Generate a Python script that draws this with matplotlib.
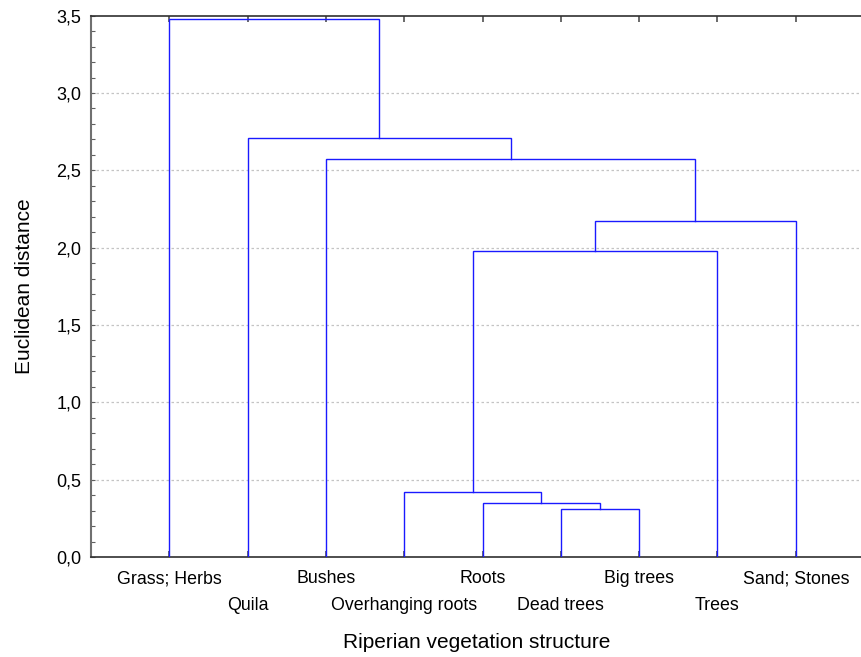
import matplotlib
matplotlib.use("Agg")
import matplotlib.pyplot as plt
from matplotlib.ticker import MultipleLocator

# ---- data ----
leaf_labels = ["Grass; Herbs", "Quila", "Bushes", "Overhanging roots", "Roots",
               "Dead trees", "Big trees", "Trees", "Sand; Stones"]
# merges: new cluster ids start at len(leaf_labels)
merge_left = [5, 4, 3, 11, 12, 2, 1, 0]
merge_right = [6, 9, 10, 7, 8, 13, 14, 15]
merge_height = [0.308, 0.351, 0.420, 1.978, 2.172, 2.576, 2.711, 3.476]
ytick_vals = [0.0, 0.5, 1.0, 1.5, 2.0, 2.5, 3.0, 3.5]
ytick_labels = ["0,0", "0,5", "1,0", "1,5", "2,0", "2,5", "3,0", "3,5"]
xlabel = "Riperian vegetation structure"
ylabel = "Euclidean distance"

plt.rcParams['font.family'] = ['Liberation Sans', 'DejaVu Sans']

W, H = 862, 657
fig = plt.figure(figsize=(W / 100, H / 100), dpi=100)
ax = fig.add_axes([91 / W, (H - 557) / H, 1 - 91 / W, (557 - 15.7) / H])

n = len(leaf_labels)
xpos = {i: i + 1 for i in range(n)}
ypos = {i: 0.0 for i in range(n)}
line_color = "#1a1aff"
for k, (a, b, h) in enumerate(zip(merge_left, merge_right, merge_height)):
    xa, xb = xpos[a], xpos[b]
    ax.plot([xa, xa, xb, xb], [ypos[a], h, h, ypos[b]], color=line_color,
            lw=1.0, solid_joinstyle="miter", zorder=3)
    cid = n + k
    xpos[cid] = (xa + xb) / 2
    ypos[cid] = h

ax.set_xlim(0, 9.846)
ax.set_ylim(0, 3.5)

# grid
for v in ytick_vals[1:-1]:
    ax.axhline(v, color="#c4c4c4", lw=0.9, ls=(0, (2, 2)), zorder=1)

ax.set_yticks(ytick_vals, ytick_labels)
ax.yaxis.set_minor_locator(MultipleLocator(0.1))
ax.tick_params(axis="y", which="both", direction="in", length=3, width=0.8,
               color="#606060", labelsize=13, pad=7)

ax.set_xticks(range(1, n + 1), leaf_labels)
ax.tick_params(axis="x", which="major", direction="in", length=4, width=1.2,
               color="#505050", top=True, labelsize=12.8, pad=9.6)
for i, t in enumerate(ax.xaxis.get_major_ticks()):
    if i % 2 == 1:
        t.set_pad(28.6)

for s in ["top", "bottom"]:
    ax.spines[s].set_color("#303030")
    ax.spines[s].set_linewidth(1.2)
ax.spines["left"].set_color("#707070")
ax.spines["left"].set_linewidth(1.5)
ax.spines["right"].set_visible(False)

ax.set_xlabel(xlabel, fontsize=15)
ax.set_ylabel(ylabel, fontsize=15)
ax.xaxis.set_label_coords(0.5, (557 - 642) / 541.3)
ax.xaxis.label.set_va("center")
ax.yaxis.set_label_coords((25 - 91) / (W - 91), 0.5)
ax.yaxis.label.set_va("center")

fig.savefig("out.png", dpi=100)
